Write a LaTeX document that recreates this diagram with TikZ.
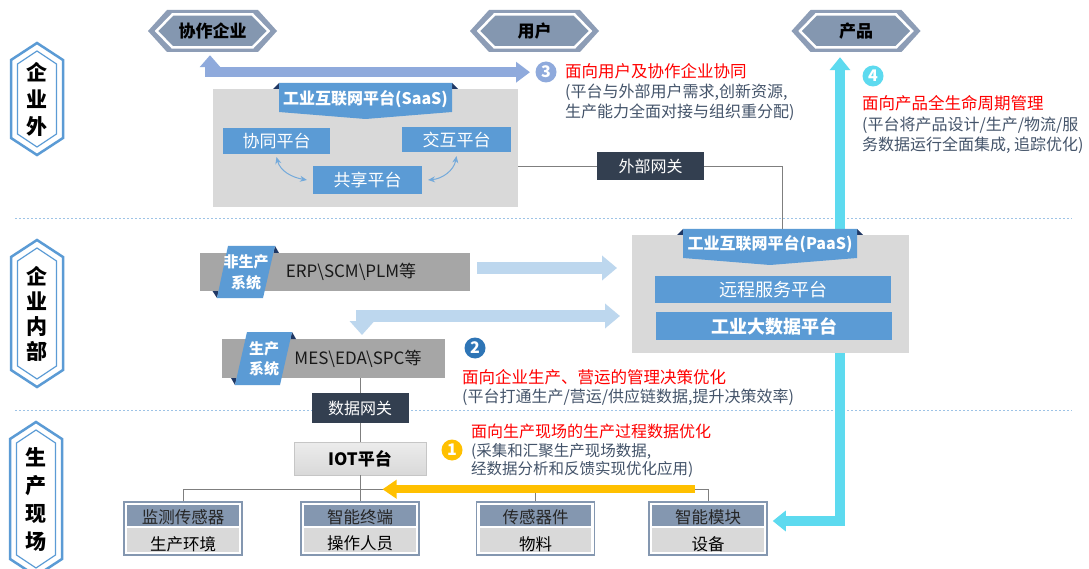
\documentclass[tikz,border=0pt]{standalone}
\usepackage{fontspec}
\setmainfont{Noto Sans CJK SC}
\usetikzlibrary{arrows.meta,calc}
\definecolor{hexo}{HTML}{8D9DB6}
\definecolor{hexi}{HTML}{8497B0}
\definecolor{vblue}{HTML}{5B9BD5}
\definecolor{bblue}{HTML}{5B9BD5}
\definecolor{gbox}{HTML}{D9D9D9}
\definecolor{mgray}{HTML}{A6A6A6}
\definecolor{dgate}{HTML}{333F50}
\definecolor{redt}{HTML}{FF0000}
\definecolor{grayt}{HTML}{44546A}
\definecolor{arrc}{HTML}{8FAADC}
\definecolor{cyanar}{HTML}{5DDAEF}
\definecolor{lbar}{HTML}{BDD7EE}
\definecolor{yel}{HTML}{FFC000}
\definecolor{numb}{HTML}{2E75B6}
\definecolor{sepc}{HTML}{9DC3E6}
\definecolor{lineg}{HTML}{7F7F7F}
\definecolor{foldc}{HTML}{203864}

\newcommand\fs[1]{\fontsize{#1}{#1}\selectfont}

% horizontal hexagon: name, cx, cy, text
\newcommand\hexH[4]{%
 \fill[hexo] ({#2-64.5},#3) -- ({#2-45.5},{#3-21}) -- ({#2+45.5},{#3-21}) -- ({#2+64.5},#3) -- ({#2+45.5},{#3+21}) -- ({#2-45.5},{#3+21}) -- cycle;
 \draw[white,line width=2.5pt,fill=hexi] ({#2-56},#3) -- ({#2-40},{#3-16.5}) -- ({#2+40},{#3-16.5}) -- ({#2+56},#3) -- ({#2+40},{#3+16.5}) -- ({#2-40},{#3+16.5}) -- cycle;
 \node[inner sep=0pt, minimum width=129pt, minimum height=42pt, font={\bfseries\fs{17}}, text=black] (#1) at (#2,#3) {#4};
}
% vertical hexagon: name, cx, cy, half height, text, line skip
\newcommand\hexV[6]{%
 \draw[vblue,line width=2.5pt,fill=white] (#2,{#3-#4}) -- ({#2+26},{#3-#4+17}) -- ({#2+26},{#3+#4-17}) -- (#2,{#3+#4}) -- ({#2-26},{#3+#4-17}) -- ({#2-26},{#3-#4+17}) -- cycle;
 \draw[vblue,line width=1.2pt] (#2,{#3-#4+8}) -- ({#2+19.5},{#3-#4+21}) -- ({#2+19.5},{#3+#4-21}) -- (#2,{#3+#4-8}) -- ({#2-19.5},{#3+#4-21}) -- ({#2-19.5},{#3-#4+21}) -- cycle;
 \node[inner sep=0pt, align=center, font={\bfseries\fontsize{21}{#6}\selectfont}] (#1) at (#2,#3) {#5};
}
% bottom box: name, cx, top text, bottom text
\newcommand\botbox[4]{%
 \node[draw=hexi, line width=1.5pt, fill=white, inner sep=0pt, minimum width=118pt, minimum height=53pt] (#1) at (#2,528.5) {};
 \fill[hexi] ([xshift=4pt,yshift=-4pt]#1.north west) rectangle ([xshift=-4pt,yshift=-25pt]#1.north east);
 \fill[gbox] ([xshift=4pt,yshift=-27pt]#1.north west) rectangle ([xshift=-4pt,yshift=4pt]#1.south east);
 \node[inner sep=0pt, font={\fs{16.5}}, text=black!85] (#1t) at ([yshift=-15.5pt]#1.north) {#3};
 \node[inner sep=0pt, font={\fs{16.5}}, text=black] (#1b) at ([yshift=12pt]#1.south) {#4};
}

\begin{document}
\begin{tikzpicture}[x=1pt,y=-1pt,
  bx/.style={inner sep=0pt, outer sep=0pt},
  bluebox/.style={bx, fill=bblue, text=white, font={\fs{17}}},
  gatebox/.style={bx, fill=dgate, text=white, font={\fs{16}}},
  thinl/.style={draw=lineg, line width=0.9pt},
  redline/.style={inner sep=0pt, anchor=west, text=redt, font={\fs{16.5}}},
  grayline/.style={inner sep=0pt, anchor=west, text=grayt, font={\fs{16}}},
  numc/.style={circle, inner sep=0pt, minimum size=21pt, text=white, font={\bfseries\fs{16}}},
  sepline/.style={draw=sepc, line width=0.8pt, dash pattern=on 2pt off 2pt},
]
\useasboundingbox (0,0) rectangle (1089,569);
\fill[white] (0,0) rectangle (1089,569);

% separators
\draw[sepline] (15,218) -- (1072,218);
\draw[sepline] (15,410) -- (1072,410);

% left labels
\hexV{Lout}{37}{99}{56}{企\\业\\外}{27}
\hexV{Lin}{37}{313.5}{73.5}{企\\业\\内\\部}{25}
\hexV{Lfld}{36}{499}{77}{生\\产\\现\\场}{28}

% top hexagons
\hexH{coop}{212.5}{31}{协作企业}
\hexH{user}{534.5}{31}{用户}
\hexH{prod}{856}{31}{产品}

% bottom boxes
\botbox{b1}{183}{监测传感器}{生产环境}
\botbox{b2}{360}{智能终端}{操作人员}
\botbox{b3}{535.5}{传感器件}{物料}
\botbox{b4}{708}{智能模块}{设备}

% cyan arrow (behind the PaaS box)
\draw[cyanar, line width=10pt, line join=miter, {Triangle[width=20pt,length=13pt]}-{Triangle[width=20pt,length=13pt]}]
  ([xshift=5pt,yshift=7.5pt]b4.east) -| ([xshift=-16pt,yshift=-5pt]prod.south);

% SaaS container
\node[bx, fill=gbox, minimum width=305pt, minimum height=118pt] (saas) at (365.5,148) {};
\fill[foldc] (273,89) -- (279,83) -- (279,89) -- cycle;
\fill[foldc] (452,83) -- (458,89) -- (452,89) -- cycle;
\fill[bblue] (279,83) -- (452,83) -- (452,112) -- (365.5,119) -- (279,112) -- cycle;
\node[bx, text=white, font={\bfseries\fs{16}}] (saasT) at (365.5,99) {工业互联网平台(SaaS)};
\node[bluebox, minimum width=107pt, minimum height=26pt] (xt) at (276.5,141) {协同平台};
\node[bluebox, minimum width=109pt, minimum height=25pt] (jh) at (456.5,139.5) {交互平台};
\node[bluebox, minimum width=109pt, minimum height=28pt] (gx) at (367.5,180) {共享平台};
\draw[bblue!85, line width=1pt, {Stealth[length=7pt,width=6pt]}-{Stealth[length=7pt,width=6pt]}]
  ([yshift=-3pt]xt.south) to[out=-75,in=170] ([xshift=-6pt]gx.west);
\draw[bblue!85, line width=1pt, {Stealth[length=7pt,width=6pt]}-{Stealth[length=7pt,width=6pt]}]
  ([xshift=6pt]gx.east) to[out=5,in=-100] ([yshift=-4pt]jh.south);

% external gateway
\node[gatebox, minimum width=107pt, minimum height=28pt] (ext) at (650.5,166) {外部网关};

% PaaS container
\node[bx, fill=gbox, minimum width=277pt, minimum height=118pt] (paas) at (770.5,294) {};
\fill[foldc] (677,235) -- (683,229) -- (683,235) -- cycle;
\fill[foldc] (857,229) -- (863,235) -- (857,235) -- cycle;
\fill[bblue] (683,229) -- (857,229) -- (857,258) -- (770,265) -- (683,258) -- cycle;
\node[bx, text=white, font={\bfseries\fs{16}}] (paasT) at (770,244) {工业互联网平台(PaaS)};
\node[bluebox, minimum width=236pt, minimum height=27pt, font={\fs{18}}] (yc) at (773,289.5) {远程服务平台};
\node[bluebox, minimum width=236pt, minimum height=28pt, font={\bfseries\fs{18}}] (dsj) at (774,326) {工业大数据平台};

% gateway lines
\draw[thinl] (saas.east |- ext.west) -- (ext.west);
\draw[thinl] (ext.east) -| ([xshift=11.5pt,yshift=6pt]paas.north);

% ERP box
\node[bx, fill=mgray, minimum width=270pt, minimum height=38pt] (erp) at (335,272) {};
\node[bx, font={\fs{17}}, text=black!90] (erpT) at (351,272) {ERP\textbackslash SCM\textbackslash PLM等};
\fill[foldc] (275,246) -- (279,253) -- (273.4,253) -- cycle;
\fill[foldc] (217,298) -- (212.5,291) -- (218.6,291) -- cycle;
\fill[bblue] (228,246) -- (275,246) -- (263,298) -- (217,298) -- cycle;
\node[bx, align=center, text=white, font={\bfseries\fontsize{15}{21}\selectfont}] (erpL) at (246,272) {非生产\\系统};

% MES box
\node[bx, fill=mgray, minimum width=223pt, minimum height=39pt] (mes) at (333.5,358.5) {};
\node[bx, font={\fs{17}}, text=black!90] (mesT) at (358,358.5) {MES\textbackslash EDA\textbackslash SPC等};
\fill[foldc] (292,332) -- (296,339) -- (290.4,339) -- cycle;
\fill[foldc] (235,385) -- (231,378) -- (236.6,378) -- cycle;
\fill[bblue] (247,332) -- (292,332) -- (280,385) -- (235,385) -- cycle;
\node[bx, align=center, text=white, font={\bfseries\fontsize{15}{20}\selectfont}] (mesL) at (264,359) {生产\\系统};

% data gateway and IOT
\node[gatebox, minimum width=97pt, minimum height=30pt] (sjwg) at (360,408) {数据网关};
\node[bx, minimum width=132pt, minimum height=33pt, top color=gray!15, bottom color=gray!30, draw=gray!45, line width=0.5pt, font={\bfseries\fs{17}}, text=black] (iot) at (360,458.5) {IOT平台};
\draw[thinl] (sjwg.north |- mes.south) -- (sjwg.north);
\draw[thinl] (sjwg.south) -- (iot.north);

% bus
\draw[thinl] (b1.north) -- ++(0,-12) -| (b4.north);
\draw[thinl] (b3.north) -- ++(0,-12);
\draw[thinl] (iot.south) -- (b2.north);

% big arrows
\draw[arrc, line width=10pt, line join=miter, {Triangle[width=20pt,length=12pt]}-{Triangle[width=20pt,length=14pt]}]
  ([xshift=-2.5pt,yshift=-3pt]coop.south) |- ([xshift=-4.5pt,yshift=-20pt]user.south);
\draw[lbar, line width=12pt, -{Triangle[width=24pt,length=15pt]}]
  ([xshift=7pt,yshift=4pt]erp.east) -- ([xshift=-15pt,yshift=26pt]paas.west);
\draw[lbar, line width=12pt, line join=miter, {Triangle[width=24pt,length=14pt]}-{Triangle[width=24pt,length=15pt]}]
  ([xshift=28.5pt,yshift=4pt]mes.north) |- ([xshift=-12pt,yshift=-22pt]paas.west);
\draw[yel, line width=8pt, -{Triangle[width=18pt,length=14pt]}]
  ([xshift=-13pt,yshift=12pt]b4.north) -- ([xshift=22.5pt,yshift=12pt]b2.north);

% annotations
\node[numc, fill=arrc] (n3) at (546,72) {3};
\node[redline] (t3a) at (565,71) {面向用户及协作企业协同};
\node[grayline] (t3b) at (565,92) {(平台与外部用户需求,创新资源,};
\node[grayline] (t3c) at (565,112) {生产能力全面对接与组织重分配)};

\node[numc, fill=cyanar] (n4) at (873,76) {4};
\node[redline] (t4a) at (862,103) {面向产品全生命周期管理};
\node[grayline] (t4b) at (862,125) {(平台将产品设计/生产/物流/服};
\node[grayline] (t4c) at (862,145) {务数据运行全面集成, 追踪优化)};

\node[numc, fill=numb] (n2) at (475,348) {2};
\node[redline] (t2a) at (462,377) {面向企业生产、营运的管理决策优化};
\node[grayline] (t2b) at (462,397) {(平台打通生产/营运/供应链数据,提升决策效率)};

\node[numc, fill=yel] (n1) at (452,450) {1};
\node[redline, font={\fs{16}}] (t1a) at (471,431) {面向生产现场的生产过程数据优化};
\node[grayline, font={\fs{15.5}}] (t1b) at (471,451) {(采集和汇聚生产现场数据,};
\node[grayline, font={\fs{15.5}}] (t1c) at (471,469) {经数据分析和反馈实现优化应用)};
\end{tikzpicture}
\end{document}
